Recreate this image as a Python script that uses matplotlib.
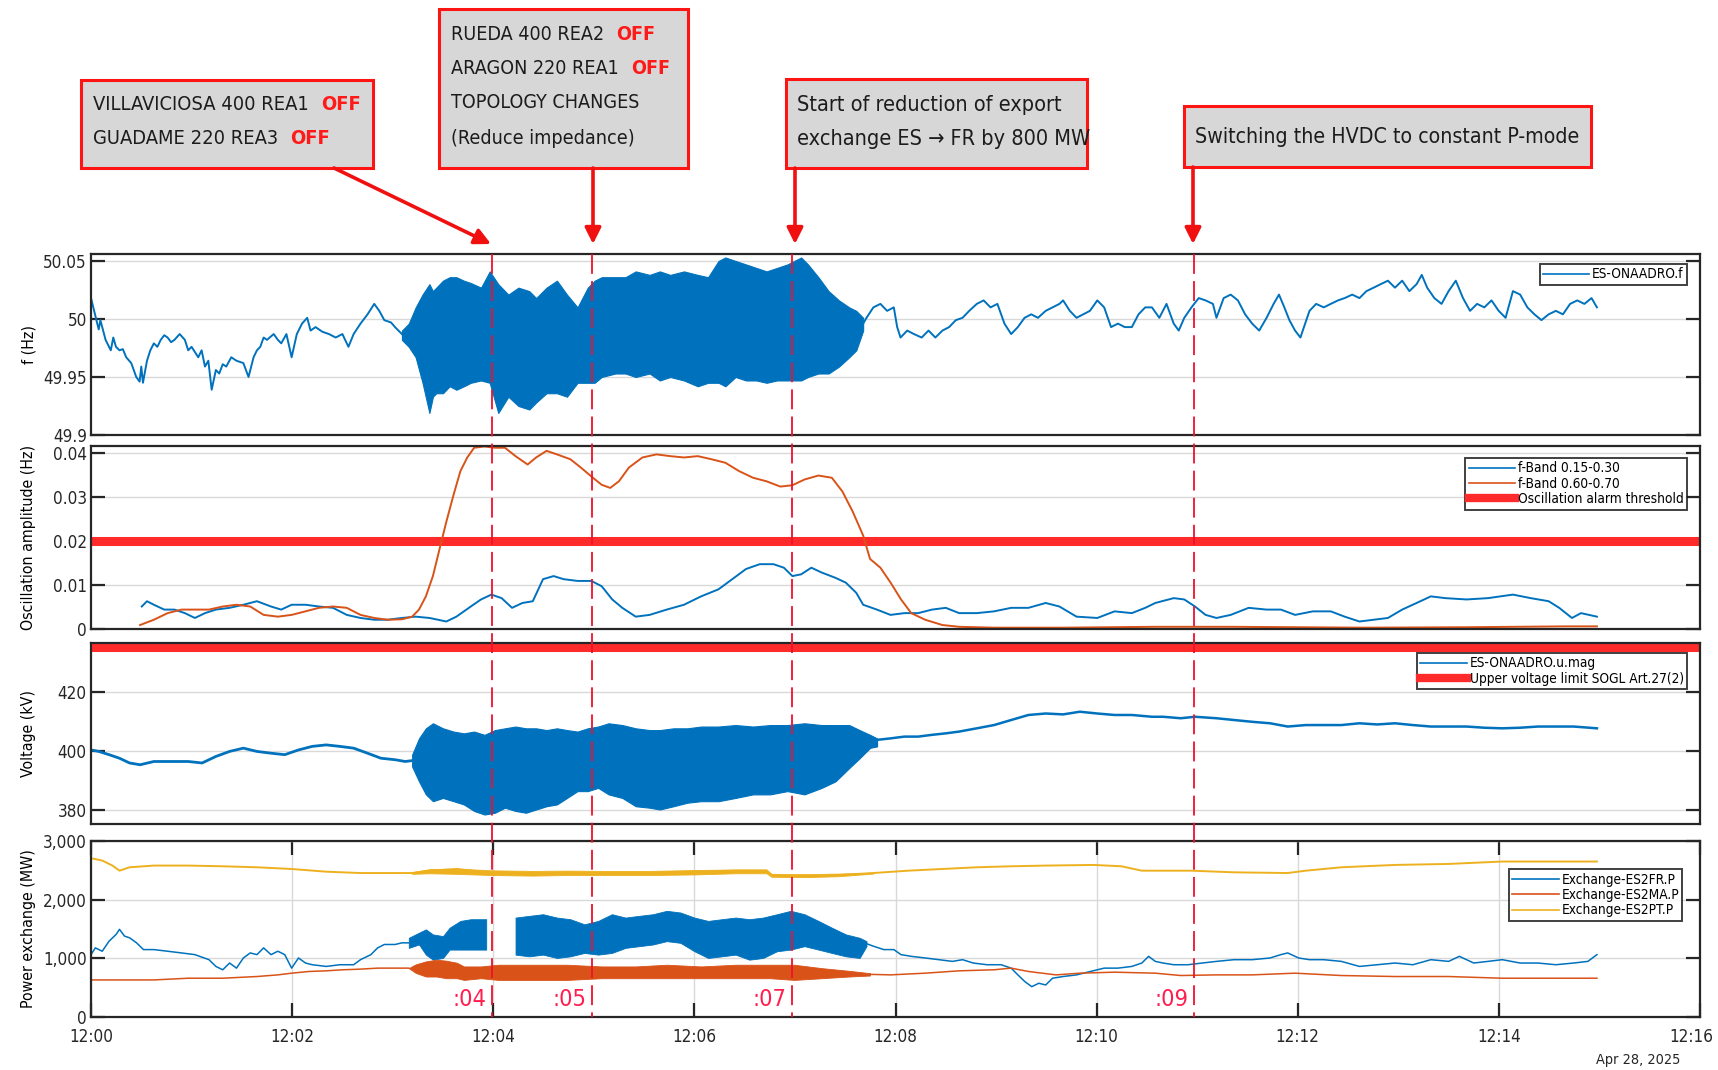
import matplotlib
matplotlib.use("Agg")
import matplotlib.pyplot as plt
import matplotlib.font_manager as fm
import numpy as np
from matplotlib.ticker import FixedLocator, FuncFormatter
from matplotlib.lines import Line2D
from matplotlib.patches import Rectangle, FancyArrowPatch
from matplotlib.transforms import blended_transform_factory, ScaledTranslation

# pick a condensed face if one is installed, otherwise fall back to a plain sans
_narrow = [f for f in fm.fontManager.ttflist
           if f.stretch in ('condensed', 'semi-condensed', 'extra-condensed', 'ultra-condensed')
           or 'Condensed' in f.name or 'Narrow' in f.name]
if _narrow:
    plt.rcParams['font.family'] = [_narrow[0].name, 'DejaVu Sans']
    plt.rcParams['font.stretch'] = _narrow[0].stretch
else:
    plt.rcParams['font.family'] = ['Roboto', 'DejaVu Sans']

# ---------------- data (time = seconds after 12:00:00, 28 Apr 2025) ----------------
# frequency, calm part before oscillation
f_pre_t = [0, 4.6, 5.6, 8.7, 11.8, 13.3, 14.9, 17, 19, 21, 24, 27, 29, 30, 31, 33.4, 35.4, 37.5, 39.6, 41.6,
           43.7, 45.7, 47.8, 49.8, 52.9, 56, 58, 60, 64, 66, 68, 70, 72, 74.5, 76.5, 78.6, 80.7, 83.7, 86.8, 90.9,
           94, 97, 99, 101, 103, 105, 109, 111.5, 113.5, 116.6, 119.7, 122.8, 125.9, 129, 131, 134, 138, 142, 146, 150,
           153.6, 156.7, 160.8, 165, 169, 172, 175, 179, 181.4, 185.5]
f_pre = [50.018, 49.991, 49.999, 49.982, 49.973, 49.984, 49.976, 49.973, 49.974, 49.967,
         49.962, 49.950, 49.946, 49.959, 49.945, 49.964, 49.973, 49.979, 49.976, 49.982,
         49.986, 49.984, 49.980, 49.982, 49.987, 49.982, 49.973, 49.976, 49.967, 49.973,
         49.959, 49.964, 49.939, 49.956, 49.953, 49.961, 49.959, 49.967, 49.964, 49.962,
         49.950, 49.967, 49.973, 49.976, 49.984, 49.982, 49.987, 49.982, 49.979, 49.987,
         49.967, 49.987, 49.996, 50.001, 49.990, 49.993, 49.989, 49.987, 49.984, 49.987,
         49.976, 49.987, 49.996, 50.004, 50.013, 50.007, 49.999, 49.997, 49.993, 49.987]
# frequency, oscillation envelope
fb_t = [185.5, 189.6, 193.7, 197.8, 201.9, 204, 206, 210, 214, 218, 222.5, 226.6, 232.7, 237.9, 243, 249, 255,
        261.5, 265.6, 271.8, 278, 284, 290.3, 296.4, 300.5, 304.7, 312.9, 318.9, 325, 333.3, 339.4, 345.6, 353.8,
        362, 368.2, 374.4, 378.5, 384.6, 390.8, 397, 403.1, 409.3, 415.5, 423.7, 427.8, 434, 440.1, 446.3, 452.4,
        456.6, 460.7]
fb_hi = [49.990, 49.996, 50.010, 50.021, 50.030, 50.024, 50.027, 50.033, 50.036, 50.036,
         50.033, 50.031, 50.027, 50.041, 50.030, 50.021, 50.027, 50.024, 50.018, 50.027,
         50.033, 50.021, 50.010, 50.027, 50.033, 50.036, 50.036, 50.036, 50.041, 50.038,
         50.041, 50.038, 50.041, 50.038, 50.036, 50.050, 50.053, 50.050, 50.047, 50.044,
         50.041, 50.044, 50.047, 50.053, 50.047, 50.036, 50.024, 50.016, 50.010, 50.007, 50.001]
fb_lo = [49.982, 49.976, 49.967, 49.945, 49.919, 49.933, 49.936, 49.936, 49.942, 49.939,
         49.942, 49.945, 49.947, 49.945, 49.919, 49.933, 49.925, 49.922, 49.928, 49.936,
         49.936, 49.933, 49.945, 49.945, 49.945, 49.950, 49.953, 49.953, 49.950, 49.953,
         49.947, 49.950, 49.947, 49.942, 49.945, 49.945, 49.942, 49.950, 49.947, 49.947,
         49.945, 49.947, 49.947, 49.947, 49.950, 49.953, 49.953, 49.959, 49.967, 49.973, 49.990]
# frequency, calm part after oscillation
f_post_t = [460.7, 462.7, 466.8, 471, 475, 479, 481, 483, 487, 491, 495.6, 499.7, 503.8, 508, 512, 516, 520, 524,
            528.5, 532.6, 536.7, 540.8, 545, 549, 553, 557, 561, 565, 569.6, 573.7, 577.8, 580, 584, 588, 592, 596,
            600.4, 604.5, 608.6, 612.7, 616.8, 621, 625, 629, 633, 637.4, 641.7, 646, 649, 652.3, 656.6, 660.9, 665,
            669.4, 671.5, 675.8, 680, 684.3, 688.6, 692.8, 697, 701.4, 705.6, 708.8, 712, 715, 718.4, 721.6, 723.7,
            727, 731, 735.5, 739.7, 744, 748, 752.5, 756.8, 761, 765.3, 769.5, 773.8, 778, 782.3, 786.6, 790.9, 794,
            797.2, 801.5, 805.8, 810, 814.3, 818.6, 822.8, 827, 831.3, 835.6, 839.9, 844, 848.4, 852.7, 857, 861.2,
            865.4, 869.7, 874, 878.2, 882.5, 886.8, 891, 895.3, 898.5]
f_post = [49.996, 50.001, 50.010, 50.013, 50.007, 50.010, 49.993, 49.984, 49.990, 49.987, 49.984, 49.990,
          49.984, 49.990, 49.993, 49.999, 50.001, 50.007, 50.013, 50.016, 50.010, 50.013, 49.996, 49.987,
          49.993, 50.001, 50.004, 50.001, 50.007, 50.010, 50.013, 50.016, 50.007, 50.001, 50.004, 50.007,
          50.016, 50.010, 49.993, 49.996, 49.993, 49.993, 50.004, 50.010, 50.010, 50.001, 50.013, 49.996,
          49.990, 50.001, 50.010, 50.018, 50.016, 50.013, 50.001, 50.018, 50.021, 50.016, 50.004, 49.996,
          49.990, 50.001, 50.013, 50.021, 50.010, 49.999, 49.990, 49.984, 49.993, 50.007, 50.013, 50.010,
          50.013, 50.016, 50.018, 50.021, 50.018, 50.024, 50.027, 50.030, 50.033, 50.027, 50.033, 50.024,
          50.030, 50.038, 50.027, 50.018, 50.013, 50.024, 50.033, 50.018, 50.007, 50.013, 50.010, 50.016,
          50.007, 50.001, 50.024, 50.021, 50.010, 50.004, 49.999, 50.004, 50.007, 50.004, 50.013, 50.016,
          50.013, 50.018, 50.010]

# oscillation amplitude per frequency band
amp_t1 = [30.3, 33.4, 37.5, 43.7, 49.8, 56, 62, 68, 74.5, 82.7, 90.9, 99, 107.4, 113.5, 119.7, 128, 136, 144.4,
          152.6, 160.8, 169, 177, 185.5, 193.7, 202, 212, 218, 226.6, 232.7, 238.9, 245, 251.2, 257.4, 263.6, 269.7,
          276, 282, 290.3, 298.5, 304.7, 311, 317, 325, 333.3, 343.5, 353.8, 364, 374.4, 382.6, 390.8, 399, 407.2,
          413.4, 418.5, 423.7, 429.8, 436, 444.2, 450.4, 456.6, 460.7, 468.9, 477, 485.3, 493.5, 501.8, 510, 518,
          528.5, 538.8, 549, 559.3, 569.6, 577.8, 588, 600.4, 610.7, 621, 629, 635, 646, 652.3, 658.7, 665, 671.5,
          680, 690.7, 701.4, 710, 718.4, 729, 739.7, 748, 756.8, 765.3, 773.8, 782.3, 790.9, 799.4, 808, 820.7,
          833.5, 848.4, 859, 869.7, 876, 883.6, 889, 898.5]
amp_band1 = [0.0051, 0.0063, 0.0055, 0.0044, 0.0044, 0.0036, 0.0025, 0.0036, 0.0044, 0.0048,
             0.0055, 0.0063, 0.0051, 0.0044, 0.0055, 0.0055, 0.0051, 0.0048, 0.0032, 0.0025,
             0.0021, 0.0021, 0.0025, 0.0028, 0.0025, 0.0017, 0.0028, 0.0051, 0.0067, 0.0078,
             0.0070, 0.0048, 0.0059, 0.0063, 0.0113, 0.0120, 0.0113, 0.0109, 0.0109, 0.0097,
             0.0067, 0.0048, 0.0028, 0.0032, 0.0044, 0.0055, 0.0074, 0.0090, 0.0113, 0.0136,
             0.0147, 0.0147, 0.0139, 0.0120, 0.0124, 0.0139, 0.0128, 0.0116, 0.0105, 0.0082,
             0.0055, 0.0044, 0.0032, 0.0036, 0.0036, 0.0044, 0.0048, 0.0036, 0.0036, 0.0040,
             0.0048, 0.0048, 0.0059, 0.0051, 0.0028, 0.0025, 0.0040, 0.0036, 0.0048, 0.0059,
             0.0070, 0.0067, 0.0051, 0.0032, 0.0025, 0.0032, 0.0048, 0.0044, 0.0044, 0.0032,
             0.0040, 0.0040, 0.0028, 0.0017, 0.0021, 0.0025, 0.0044, 0.0059, 0.0074, 0.0070,
             0.0067, 0.0070, 0.0078, 0.0070, 0.0063, 0.0048, 0.0025, 0.0036, 0.0028]
amp_t2 = [29.3, 37.5, 45.7, 54, 62, 70.4, 78.6, 86.8, 95, 103, 111.5, 119.7, 127.9, 136, 144.4, 152.6, 160.8, 169,
          177, 185.5, 191.6, 195.7, 199.8, 204, 208, 212, 216.3, 220.4, 224.5, 228.6, 234.8, 241, 247, 253.3, 260.5,
          265.6, 271.8, 278, 286, 292.3, 298.5, 304.7, 309.8, 315, 320.9, 329, 337.4, 345.6, 353.8, 362, 370.2,
          378.5, 386.7, 395, 403, 411.3, 418.5, 425.7, 434, 442, 448.3, 454.5, 460.7, 464.8, 471, 477.1, 483.3,
          489.4, 497.7, 508, 518, 538.8, 580, 635, 680, 760, 820, 880, 898.5]
amp_band2 = [0.0009, 0.0021, 0.0036, 0.0044, 0.0044, 0.0044, 0.0051, 0.0055, 0.0051, 0.0032,
             0.0028, 0.0032, 0.0040, 0.0048, 0.0051, 0.0048, 0.0032, 0.0025, 0.0021, 0.0022,
             0.0028, 0.0044, 0.0074, 0.0120, 0.0182, 0.0243, 0.0304, 0.0358, 0.0389, 0.0411,
             0.0414, 0.0411, 0.0411, 0.0392, 0.0373, 0.0389, 0.0404, 0.0396, 0.0385, 0.0366,
             0.0346, 0.0327, 0.0320, 0.0335, 0.0366, 0.0389, 0.0396, 0.0392, 0.0389, 0.0392,
             0.0385, 0.0377, 0.0358, 0.0343, 0.0335, 0.0323, 0.0326, 0.0339, 0.0348, 0.0343,
             0.0312, 0.0266, 0.0212, 0.0159, 0.0139, 0.0105, 0.0067, 0.0036, 0.0021, 0.0009,
             0.0005, 0.0003, 0.0003, 0.0005, 0.0005, 0.0003, 0.0004, 0.0006, 0.0006]
alarm_threshold = 0.02

# voltage (kV)
v_pre_t = [0, 4.6, 10.8, 17, 23, 29.3, 37.5, 47.8, 58, 66.3, 74.5, 82.7, 90.9, 99, 107.4, 115.6, 123.8, 132,
           140.3, 148.5, 156.7, 165, 173, 181.4, 187.5, 191.6]
v_pre = [400.3, 399.8, 398.7, 397.5, 395.9, 395.3, 396.4, 396.4, 396.4, 395.9, 398.1, 399.8, 400.9,
         399.8, 399.2, 398.7, 400.3, 401.5, 402.0, 401.5, 400.9, 399.2, 397.5, 397.0, 396.4, 396.7]
vb_t = [191.6, 195.7, 199.8, 204, 210, 216.3, 222.5, 228.6, 234.8, 241, 247, 253.3, 259.5, 265.6, 271.8, 278, 284,
        290.3, 296.4, 302.6, 308.8, 317, 325, 333.3, 339.4, 347.6, 355.9, 364, 374.4, 384.6, 395, 405.2, 415.5,
        425.7, 436, 444.2, 452.4, 458.6, 464.8, 469]
vb_hi = [398.7, 404.2, 407.6, 409.3, 407.6, 406.5, 405.9, 406.5, 405.4, 407.0, 407.6, 408.2, 407.6, 407.6,
         407.0, 407.6, 407.0, 406.5, 407.6, 408.2, 409.3, 408.7, 407.6, 407.0, 407.0, 407.6, 407.6, 408.2,
         408.2, 408.7, 408.2, 408.7, 408.7, 409.3, 408.7, 408.7, 408.7, 407.0, 405.4, 404.2]
vb_lo = [394.7, 389.7, 385.3, 383.0, 384.1, 383.0, 381.9, 379.7, 378.5, 379.1, 380.8, 379.7, 379.1, 380.2,
         381.3, 381.9, 384.1, 386.4, 386.4, 387.5, 385.3, 384.1, 381.3, 380.8, 380.2, 381.3, 382.5, 383.0,
         383.0, 384.1, 385.3, 385.3, 386.4, 385.3, 387.5, 389.7, 394.2, 397.5, 401.0, 401.5]
v_post_t = [469, 477, 485.3, 493.5, 501.8, 510, 518, 528.5, 538.8, 549, 559.3, 569.6, 580, 590, 600.4, 610.7, 621,
            633, 639.6, 650.2, 658.7, 671.5, 682, 692.8, 703.5, 714, 724.8, 735.5, 746, 756.8, 767.4, 778, 788.7,
            799.4, 810, 820.7, 831.3, 842, 852.7, 863.3, 874, 884.6, 898.5]
v_post = [403.7, 404.2, 404.8, 404.8, 405.4, 405.9, 406.5, 407.6, 408.7, 410.4, 412.1, 412.6, 412.3, 413.2,
          412.6, 412.1, 412.1, 411.5, 411.5, 411.0, 411.5, 411.0, 410.4, 409.8, 409.3, 408.2, 408.7, 408.7,
          408.7, 409.3, 408.9, 409.3, 408.7, 408.2, 408.2, 408.2, 407.8, 407.6, 407.8, 408.2, 408.2, 408.2, 407.6]
upper_voltage_limit = 435

# power exchange (MW)
pt_t = [0, 6.7, 12.8, 17, 23, 37.5, 58, 78.6, 99, 119.7, 140.3, 160.8, 181.4, 191.6, 202, 218.3, 238.9, 263.6,
        284, 304.7, 333.3, 360, 384.6, 403, 406, 415.5, 427.8, 446.3, 466.8, 487.4, 507.9, 528.5, 549, 569.6,
        598.3, 614.8, 627, 656.6, 682, 714, 724.8, 746, 778, 810, 842, 874, 898.5]
pt_p = [2707, 2667, 2581, 2494, 2552, 2581, 2581, 2569, 2552, 2523, 2477, 2454, 2454, 2454, 2494, 2523,
        2454, 2437, 2454, 2454, 2454, 2477, 2494, 2494, 2420, 2397, 2397, 2420, 2454, 2494, 2523, 2552,
        2569, 2581, 2592, 2569, 2494, 2494, 2466, 2454, 2494, 2552, 2592, 2609, 2650, 2650, 2650]
ptb_t = [191.6, 202, 218.3, 238.9, 263.6, 284, 304.7, 333.3, 360, 384.6, 403, 406, 427.8, 446.3, 466.8]
ptb_hi = [2470, 2520, 2530, 2500, 2490, 2495, 2490, 2490, 2505, 2515, 2515, 2440, 2435, 2445, 2460]
ptb_lo = [2440, 2450, 2440, 2420, 2410, 2420, 2420, 2420, 2430, 2450, 2450, 2390, 2385, 2400, 2445]

fr_pre_t = [0, 2.6, 6.7, 10.8, 15, 17, 20, 23, 27.2, 31.3, 37.5, 45.7, 54, 62, 70.4, 74.5, 78.6, 82.7, 86.8, 90.9,
            95, 99, 103, 107.4, 111.5, 115.6, 119.7, 123.8, 128, 132, 140.3, 148.5, 156.7, 160.8, 167, 171, 175,
            181.4, 185.5, 189.6]
fr_pre = [1063, 1178, 1121, 1293, 1408, 1494, 1379, 1350, 1264, 1149, 1149, 1121, 1092, 1063, 977, 862,
          805, 920, 833, 1006, 1092, 1063, 1178, 1063, 1121, 1063, 833, 1006, 920, 891, 862, 891, 891, 977,
          1063, 1178, 1236, 1236, 1264, 1264]
frb1_t = [189.6, 195.7, 199.8, 204, 210, 214, 220.4, 226.6, 234.8, 235.8]
frb1_hi = [1350, 1437, 1494, 1408, 1379, 1523, 1638, 1667, 1667, 1667]
frb1_lo = [1178, 1236, 1063, 977, 1006, 1149, 1149, 1149, 1149, 1149]
frb2_t = [253.3, 261.5, 269.7, 278, 286, 294.4, 302.6, 310.8, 318.9, 327, 335.3, 343.5, 351.7, 360, 368.2,
          376.4, 384.6, 392.8, 401, 409.3, 417.5, 425.7, 434, 442, 450.4, 458.6, 462.7]
frb2_hi = [1695, 1724, 1752, 1695, 1667, 1580, 1638, 1752, 1695, 1724, 1752, 1810, 1781, 1695, 1638, 1667,
           1695, 1667, 1695, 1752, 1810, 1752, 1638, 1523, 1408, 1350, 1293]
frb2_lo = [1063, 1034, 1063, 1006, 1034, 1092, 1063, 1092, 1178, 1207, 1236, 1293, 1264, 1121, 1006, 1034,
           1063, 977, 1006, 1121, 1149, 1207, 1149, 1092, 1034, 1006, 1207]
fr_post_t = [462.7, 466.8, 473, 479, 483.3, 489.4, 497.7, 505.9, 514, 520, 526.4, 534.6, 543, 549, 553, 557.2,
             561.3, 565.5, 569.6, 573.7, 580, 588, 596.3, 604.5, 612.7, 621, 627, 631, 635, 639.6, 646, 654.5, 663,
             671.5, 682, 692.8, 703.5, 709.9, 714, 720.5, 727, 735.5, 746, 756.8, 767.4, 778, 788.7, 799.4, 810,
             816.4, 825, 833.5, 842, 852.7, 863.3, 874, 884.6, 893.1, 898.5]
fr_post = [1250, 1207, 1149, 1149, 1063, 1034, 1006, 977, 948, 977, 920, 891, 891, 833, 718, 603, 517, 575,
           546, 661, 690, 718, 776, 833, 833, 862, 920, 1034, 948, 920, 891, 891, 920, 948, 977, 977, 1006, 1063,
           1092, 1006, 977, 977, 948, 862, 891, 920, 891, 977, 948, 1034, 920, 948, 977, 920, 920, 891, 920, 948, 1063]

ma_pre_t = [0, 17, 37.5, 58, 78.6, 99, 111.5, 119.7, 130, 140.3, 150.5, 160.8, 171, 181.4, 189.6]
ma_pre = [632, 632, 632, 661, 661, 690, 718, 747, 776, 787, 805, 816, 833, 833, 833]
mab_t = [189.6, 193.7, 199.8, 206, 212, 218.3, 222.5, 232.7, 243, 263.6, 284, 304.7, 325, 343.5, 364, 384.6,
         405.2, 419.6, 436, 452.4, 464.8]
mab_hi = [833, 897, 948, 977, 960, 925, 862, 862, 891, 891, 891, 862, 862, 891, 862, 891, 891, 891, 833, 787, 747]
mab_lo = [833, 752, 690, 690, 661, 661, 632, 661, 632, 632, 632, 661, 661, 661, 661, 661, 661, 632, 661, 690, 707]
ma_post_t = [464.8, 477, 497.7, 518, 538.8, 549, 559.3, 575.7, 590, 610.7, 635, 650.2, 671.5, 692.8, 718.4,
             746, 778, 810, 842, 874, 898.5]
ma_post = [727, 718, 747, 787, 805, 833, 776, 718, 747, 764, 747, 707, 718, 718, 747, 707, 690, 690, 661, 661, 661]

# events (seconds) and their labels
event_t = [239, 299, 418, 658]
event_lbl = [':04', ':05', ':07', ':09']
xtick_s = [0, 120, 240, 360, 480, 600, 720, 840, 960]

# ---------------- drawing ----------------
W, H = 1718, 1070
BLUE, ORANGE, YELLOW = '#0072BD', '#D95319', '#EDB120'
RED = '#ff2b2b'
LINE_RED = '#f0102e'

fig = plt.figure(figsize=(W / 100, H / 100), dpi=100)
renderer = fig.canvas.get_renderer()


def fit_size(s, target_px, base=20, **kw):
    # font size that makes string s about target_px wide
    t = fig.text(0, 0, s, fontsize=base, **kw)
    w = t.get_window_extent(renderer).width
    t.remove()
    return base * target_px / w


TICK_FS = min(13.5, fit_size('12:00', 44))
LEG_FS = min(12, fit_size('Oscillation alarm threshold', 165))
LAB_FS = min(14, fit_size('Oscillation amplitude (Hz)', 186))
EVT_FS = min(24, fit_size(':04', 34))


def axbox(top, bottom):
    return [91 / W, 1 - bottom / H, (1700 - 91) / W, (bottom - top) / H]


ax1 = fig.add_axes(axbox(254, 435))
ax2 = fig.add_axes(axbox(446, 629))
ax3 = fig.add_axes(axbox(643, 824))
ax4 = fig.add_axes(axbox(841, 1017))
axes = [ax1, ax2, ax3, ax4]

# panel 1: frequency
ax1.plot(f_pre_t, f_pre, color=BLUE, lw=1.4)
ax1.fill_between(fb_t, fb_lo, fb_hi, color=BLUE, lw=0.8, edgecolor=BLUE)
ax1.plot(f_post_t, f_post, color=BLUE, lw=1.4)
ax1.plot([], [], color=BLUE, lw=1.2, label='ES-ONAADRO.f')
ax1.set_ylim(49.9, 50.056)
ax1.yaxis.set_major_locator(FixedLocator([49.9, 49.95, 50, 50.05]))
ax1.yaxis.set_major_formatter(FuncFormatter(lambda v, p: f"{v:g}"))
ax1.set_ylabel('f (Hz)', fontsize=LAB_FS)

# panel 2: oscillation amplitude
ax2.axhline(alarm_threshold, color=RED, lw=6.5)
ax2.plot(amp_t1, amp_band1, color=BLUE, lw=1.4)
ax2.plot(amp_t2, amp_band2, color=ORANGE, lw=1.4)
h_b1 = Line2D([], [], color=BLUE, lw=1.2)
h_b2 = Line2D([], [], color=ORANGE, lw=1.2)
h_th = Line2D([], [], color=RED, lw=6)
ax2.set_ylim(0, 0.0415)
ax2.yaxis.set_major_locator(FixedLocator([0, 0.01, 0.02, 0.03, 0.04]))
ax2.yaxis.set_major_formatter(FuncFormatter(lambda v, p: f"{v:g}"))
ax2.set_ylabel('Oscillation amplitude (Hz)', fontsize=LAB_FS)

# panel 3: voltage
ax3.axhline(upper_voltage_limit, color=RED, lw=6.5)
ax3.plot(v_pre_t, v_pre, color=BLUE, lw=2.0)
ax3.fill_between(vb_t, vb_lo, vb_hi, color=BLUE, lw=0.8, edgecolor=BLUE)
ax3.plot(v_post_t, v_post, color=BLUE, lw=1.8)
h_v = Line2D([], [], color=BLUE, lw=1.2)
h_lim = Line2D([], [], color=RED, lw=6)
ax3.set_ylim(375.3, 436.4)
ax3.yaxis.set_major_locator(FixedLocator([380, 400, 420]))
ax3.set_ylabel('Voltage (kV)', fontsize=LAB_FS)

# panel 4: power exchange
ax4.plot(pt_t, pt_p, color=YELLOW, lw=1.4)
ax4.fill_between(ptb_t, ptb_lo, ptb_hi, color=YELLOW, lw=0.6, edgecolor=YELLOW)
ax4.plot(fr_pre_t, fr_pre, color=BLUE, lw=1.1)
ax4.fill_between(frb1_t, frb1_lo, frb1_hi, color=BLUE, lw=0.6, edgecolor=BLUE)
ax4.fill_between(frb2_t, frb2_lo, frb2_hi, color=BLUE, lw=0.6, edgecolor=BLUE)
ax4.plot(fr_post_t, fr_post, color=BLUE, lw=1.1)
ax4.plot(ma_pre_t, ma_pre, color=ORANGE, lw=1.1)
ax4.fill_between(mab_t, mab_lo, mab_hi, color=ORANGE, lw=0.6, edgecolor=ORANGE)
ax4.plot(ma_post_t, ma_post, color=ORANGE, lw=1.1)
h_fr = Line2D([], [], color=BLUE, lw=1.2)
h_ma = Line2D([], [], color=ORANGE, lw=1.2)
h_pt = Line2D([], [], color=YELLOW, lw=1.2)
ax4.set_ylim(0, 3000)
ax4.yaxis.set_major_locator(FixedLocator([0, 1000, 2000, 3000]))
ax4.yaxis.set_major_formatter(FuncFormatter(lambda v, p: f"{int(v):,}"))
ax4.set_ylabel('Power exchange (MW)', fontsize=LAB_FS)

for ax in axes:
    ax.set_xlim(0, 960)
    ax.set_axisbelow(True)
    ax.grid(axis='y', color='#d9d9d9', lw=1.0)
    for s in ax.spines.values():
        s.set_linewidth(1.6)
        s.set_color('#262626')
    ax.tick_params(axis='y', direction='in', length=10, width=1.6, left=True, right=True,
                   labelsize=TICK_FS, pad=3, colors='#262626')
    ax.yaxis.set_label_coords(-0.034, 0.5)
    ax.xaxis.set_major_locator(FixedLocator(xtick_s))
for ax in axes[:3]:
    ax.tick_params(axis='x', length=0, labelbottom=False)
ax4.grid(axis='x', color='#d9d9d9', lw=1.0)
ax4.tick_params(axis='x', direction='in', length=10, width=1.6, top=True, bottom=True,
                labelsize=TICK_FS, pad=8, colors='#262626')
ax4.xaxis.set_major_formatter(FuncFormatter(lambda s, p: f"12:{int(s // 60):02d}"))
# last label sits at the figure edge: nudge it a little to the left
last_lbl = ax4.xaxis.get_major_ticks()[-1].label1
last_lbl.set_transform(last_lbl.get_transform() + ScaledTranslation(-0.09, 0, fig.dpi_scale_trans))

leg_kw = dict(loc='upper right', fontsize=LEG_FS, frameon=True, fancybox=False, borderpad=0.25,
              labelspacing=0.1, handlelength=3.4, handletextpad=0.2, borderaxespad=0)
lg = ax1.legend(bbox_to_anchor=(0.992, 0.945), **leg_kw)
lg2 = ax2.legend([h_b1, h_b2, h_th], ['f-Band 0.15-0.30', 'f-Band 0.60-0.70', 'Oscillation alarm threshold'],
                 bbox_to_anchor=(0.992, 0.934), **leg_kw)
lg3 = ax3.legend([h_v, h_lim], ['ES-ONAADRO.u.mag', 'Upper voltage limit SOGL Art.27(2)'],
                 bbox_to_anchor=(0.992, 0.945), **leg_kw)
lg4 = ax4.legend([h_fr, h_ma, h_pt], ['Exchange-ES2FR.P', 'Exchange-ES2MA.P', 'Exchange-ES2PT.P'],
                 bbox_to_anchor=(0.989, 0.84), **leg_kw)
for l in (lg, lg2, lg3, lg4):
    l.get_frame().set_edgecolor('#111111')
    l.get_frame().set_linewidth(1.4)

# event lines through all panels
trans = blended_transform_factory(ax4.transData, fig.transFigure)
for t, lbl in zip(event_t, event_lbl):
    fig.add_artist(Line2D([t, t], [1 - 254 / H, 1 - 1017 / H], transform=trans, color=LINE_RED,
                          lw=1.3, ls=(0, (11, 4))))
    ax4.annotate(lbl, xy=(t, 0.10), xycoords=ax4.get_xaxis_transform(), xytext=(-4, 0),
                 textcoords='offset points', ha='right', va='center', color='#ff1f4f', fontsize=EVT_FS)

fig.text(1680 / W, 1 - 1060 / H, 'Apr 28, 2025', ha='right', va='center',
         fontsize=min(13.5, fit_size('Apr 28, 2025', 84)), color='#262626')

# annotation boxes with arrows: (x0, y0, x1, y1, text x, fit line, fit width, lines)
boxes = [
    (81, 80, 373, 168, 93, 'VILLAVICIOSA 400 REA1', 217,
     [(105, 'VILLAVICIOSA 400 REA1', True), (139, 'GUADAME 220 REA3', True)]),
    (439, 9, 688, 168, 451, 'TOPOLOGY CHANGES', 188,
     [(35, 'RUEDA 400 REA2', True), (69, 'ARAGON 220 REA1', True),
      (103, 'TOPOLOGY CHANGES', False), (138, '(Reduce impedance)', False)]),
    (786, 79, 1087, 168, 797, 'Start of reduction of export', 264,
     [(105, 'Start of reduction of export', False), (139, 'exchange ES \u2192 FR by 800 MW', False)]),
    (1184, 106, 1591, 167, 1195, 'Switching the HVDC to constant P-mode', 385,
     [(137, 'Switching the HVDC to constant P-mode', False)]),
]
for x0, y0, x1, y1, tx, fit_s, fit_w, lines in boxes:
    fs = min(19, fit_size(fit_s, fit_w))
    fig.add_artist(Rectangle((x0 / W, 1 - y1 / H), (x1 - x0) / W, (y1 - y0) / H, transform=fig.transFigure,
                             facecolor='#d7d7d7', edgecolor='#ff1414', lw=2.2))
    for ly, s, off in lines:
        t = fig.text(tx / W, 1 - ly / H, s, ha='left', va='center', fontsize=fs, color='#1c1c1c')
        if off:
            bb = t.get_window_extent(renderer)
            fig.text((bb.x1 + 12) / W, 1 - ly / H, 'OFF', ha='left', va='center', fontsize=fs,
                     fontweight='bold', color='#ff1a1a')

arrows = [((334, 168), (491, 244)), ((593, 168), (593, 244)), ((795, 168), (795, 244)), ((1193, 167), (1193, 244))]
for (xa, ya), (xb, yb) in arrows:
    fig.add_artist(FancyArrowPatch((xa / W, 1 - ya / H), (xb / W, 1 - yb / H), transform=fig.transFigure,
                                   arrowstyle='-|>', mutation_scale=24, color='#f01010', lw=2.6,
                                   shrinkA=0, shrinkB=0))

fig.savefig('out.png', dpi=100)
